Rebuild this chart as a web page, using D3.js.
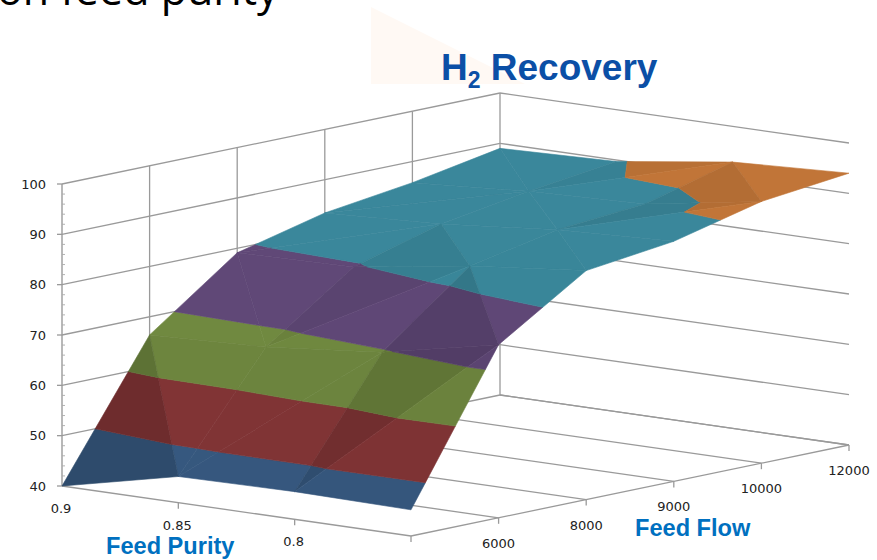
<!DOCTYPE html>
<html>
<head>
<meta charset="utf-8">
<script src="https://cdnjs.cloudflare.com/ajax/libs/d3/7.8.5/d3.min.js"></script>
<style>
html,body{margin:0;padding:0;background:#fff;overflow:hidden}
svg{display:block}
text{font-family:"DejaVu Sans",sans-serif}
</style>
</head>
<body>
<svg id="chart" width="877" height="560"></svg>
<script>
// Recovery (%) along each feed-purity row, one value per feed-flow station
const purityLabels = ["0.9", "0.85", "0.8", ""];
const flowLabels = ["", "6000", "8000", "9000", "10000", "12000"];
const recoveryTicks = [40, 50, 60, 70, 80, 90, 100];
const recoveryP90 = [40.0, 66.4, 79.1, 83.4, 85.8, 89.0];
const recoveryP85 = [45.2, 67.3, 79.6, 84.5, 87.4, 89.7];
const recoveryP80 = [45.5, 69.6, 83.1, 86.7, 88.2, 92.9];
const recoveryP75 = [45.2, 74.4, 85.5, 87.7, 92.0, 94.0];
const recoveryRows = [recoveryP90, recoveryP85, recoveryP80, recoveryP75];

const bandEdges = [40, 50, 60, 70, 80, 90, 100];
const bandColors = ["#36587f", "#813435", "#6d853e", "#5d4674", "#388396", "#bb7236"];

const svg = d3.select("#chart");

// Oblique projection: two floor axes plus a vertical recovery axis
const originX = 62, originY = 486;
const purityX = d3.scaleLinear().domain([0, purityLabels.length - 1]).range([0, 349]);
const purityY = d3.scaleLinear().domain([0, purityLabels.length - 1]).range([0, 50]);
const flowX = d3.scaleLinear().domain([0, flowLabels.length - 1]).range([0, 438]);
const flowY = d3.scaleLinear().domain([0, flowLabels.length - 1]).range([0, -91]);
const heightY = d3.scaleLinear().domain([40, 100]).range([0, -302]);
const project = (u, v, z) => [
  originX + purityX(u) + flowX(v),
  originY + purityY(u) + flowY(v) + heightY(z)
];

const uMax = purityLabels.length - 1, vMax = flowLabels.length - 1;
const gridColor = "#9a9a9a";
const seg = (g, a, b, w = 1.3, c = gridColor) => g.append("line")
  .attr("x1", a[0]).attr("y1", a[1]).attr("x2", b[0]).attr("y2", b[1])
  .attr("stroke", c).attr("stroke-width", w);

// Slide heading above the chart
svg.append("text").attr("x", -3).attr("y", 5)
  .style("font-family", "'Open Sans',sans-serif").style("font-size", "43px").attr("fill", "#000")
  .text("on feed purity");
svg.append("path").attr("d", "M371,7L371,84L525,84Z").attr("fill", "#fff9f4");

// Walls and floor
const walls = svg.append("g");
recoveryTicks.forEach(t => {
  seg(walls, project(0, 0, t), project(0, vMax, t));
  seg(walls, project(0, vMax, t), project(uMax, vMax, t));
});
d3.range(1, vMax + 1).forEach(v => seg(walls, project(0, v, 40), project(0, v, 100)));
d3.range(1, vMax + 1).forEach(v => seg(walls, project(0, v, 40), project(uMax, v, 40)));
seg(walls, project(0, 0, 40), project(uMax, 0, 40));
seg(walls, project(uMax, 0, 40), project(uMax, vMax, 40));
seg(walls, project(0, 0, 40), project(0, 0, 100), 1.4);

// Tick marks on the recovery axis
d3.range(40, 100.1, 2).forEach(t => {
  const p = project(0, 0, t);
  if (t % 10 === 0) seg(walls, [p[0] - 5, p[1]], p);
  else seg(walls, p, [p[0] + 3, p[1]], 0.9, "#aaa");
});
// Tick marks on the two floor axes
d3.range(0, uMax + 1).forEach(u => {
  const p = project(u, 0, 40);
  if (u > 0) seg(walls, p, [p[0], p[1] + 6]);
});
d3.range(1, vMax + 1).forEach(v => {
  const p = project(uMax, v, 40);
  seg(walls, p, [p[0], p[1] + 6]);
});

// Clip a triangle in data space to one recovery band
function clipAbove(poly, level, keepAbove) {
  const out = [];
  poly.forEach((a, i) => {
    const b = poly[(i + 1) % poly.length];
    const ina = keepAbove ? a[2] >= level : a[2] <= level;
    const inb = keepAbove ? b[2] >= level : b[2] <= level;
    if (ina) out.push(a);
    if (ina !== inb) {
      const t = (level - a[2]) / (b[2] - a[2]);
      out.push([a[0] + t * (b[0] - a[0]), a[1] + t * (b[1] - a[1]), level]);
    }
  });
  return out;
}

// Split each grid cell along its higher diagonal
const triangles = [];
d3.range(0, uMax).forEach(u => d3.range(0, vMax).forEach(v => {
  const c = (i, j) => [i, j, recoveryRows[i][j]];
  const a = c(u, v), b = c(u + 1, v), d = c(u + 1, v + 1), e = c(u, v + 1);
  if (a[2] + d[2] >= b[2] + e[2]) {
    triangles.push([a, b, d], [a, d, e]);
  } else {
    triangles.push([a, b, e], [b, d, e]);
  }
}));

// Shade a facet from its slope along the purity and flow directions
function facetShade(t) {
  const [a, b, c] = t;
  const det = (b[0] - a[0]) * (c[1] - a[1]) - (c[0] - a[0]) * (b[1] - a[1]);
  const dzu = ((b[2] - a[2]) * (c[1] - a[1]) - (c[2] - a[2]) * (b[1] - a[1])) / det;
  const dzv = ((b[0] - a[0]) * (c[2] - a[2]) - (c[0] - a[0]) * (b[2] - a[2])) / det;
  const across = Math.max(0.84, 1 - 0.045 * Math.max(0, dzu - 2.2));
  const along = Math.min(1.03, 1 + 0.003 * (22 - dzv));
  return across * along;
}

// Paint from the far corner of the floor to the near one
const depth = t => d3.mean(t, p => project(p[0], p[1], 40)[1]);
const surface = svg.append("g");
triangles.slice().sort((p, q) => d3.ascending(depth(p), depth(q))).forEach(t => {
  const k = facetShade(t);
  bandColors.forEach((color, i) => {
    let poly = clipAbove(t, bandEdges[i], true);
    if (poly.length) poly = clipAbove(poly, bandEdges[i + 1], false);
    if (poly.length < 3) return;
    const rgb = d3.rgb(color);
    const fill = d3.rgb(rgb.r * k, rgb.g * k, rgb.b * k).formatHex();
    surface.append("path")
      .attr("d", d3.line()(poly.map(p => project(p[0], p[1], p[2]))) + "Z")
      .attr("fill", fill).attr("stroke", fill).attr("stroke-width", 0.6);
  });
});

// Axis labels
const labelColor = "#222";
const labels = svg.append("g").style("font-size", "13px").attr("fill", labelColor);
recoveryTicks.forEach(t => {
  const p = project(0, 0, t);
  labels.append("text").attr("x", p[0] - 16).attr("y", p[1] + 4.5).attr("text-anchor", "end").text(t);
});
purityLabels.forEach((s, u) => {
  const p = project(u, 0, 40);
  labels.append("text").attr("x", p[0] - 1).attr("y", p[1] + 27).attr("text-anchor", "middle").text(s);
});
flowLabels.forEach((s, v) => {
  const p = project(uMax, v, 40);
  labels.append("text").attr("x", p[0]).attr("y", p[1] + 30).attr("text-anchor", "middle").text(s);
});

// Titles
const boldFont = "'Liberation Sans',Arial,sans-serif";
const title = svg.append("text").attr("x", 441).attr("y", 80)
  .style("font-family", boldFont).style("font-size", "37px").style("font-weight", "bold").attr("fill", "#0b4fa6");
title.append("tspan").text("H");
title.append("tspan").attr("dy", 8).style("font-size", "23px").text("2");
title.append("tspan").attr("dy", -8).text(" Recovery");
svg.append("text").attr("x", 106).attr("y", 554)
  .style("font-family", boldFont).style("font-size", "23.6px").style("font-weight", "bold").attr("fill", "#0070c0")
  .text("Feed Purity");
svg.append("text").attr("x", 635).attr("y", 536)
  .style("font-family", boldFont).style("font-size", "23.6px").style("font-weight", "bold").attr("fill", "#0070c0")
  .text("Feed Flow");
</script>
</body>
</html>
